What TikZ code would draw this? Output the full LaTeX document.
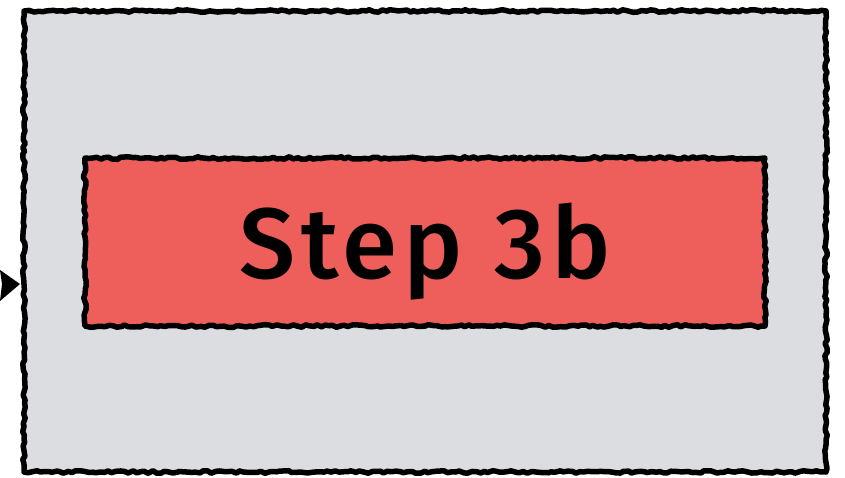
\documentclass[tikz,border=0pt]{standalone}
\usepackage{fontspec}
\setmainfont{Fira Sans}
\newfontfamily\labelfont[LetterSpace=6]{Fira Sans Medium}
\usetikzlibrary{decorations.pathmorphing}
\definecolor{boxgray}{HTML}{DCDDE0}
\definecolor{stepred}{HTML}{EE5F5B}
\tikzset{
  sketch/.style={draw=black, line width=5.5pt, line join=round,
    decorate, decoration={random steps, segment length=4pt, amplitude=1.3pt}},
  outerbox/.style={fill=boxgray},
  innerbox/.style={fill=stepred},
  label/.style={font=\labelfont\fontsize{100}{110}\selectfont, text=black}
}
\begin{document}
\begin{tikzpicture}[x=1pt,y=-1pt]
\useasboundingbox (0,0) rectangle (845,477);
\pgfmathsetseed{7}
% outer box
\fill[outerbox] (24,11) rectangle (826,472);
\draw[sketch] (24,11) rectangle (826,472);
% inner box
\fill[innerbox] (85,158) rectangle (765,326);
\draw[sketch] (85,158) rectangle (765,326);
% text
\node[label] (step) at (425,252) {Step 3b};
% incoming arrow tip at left edge
\coordinate (tip) at (20,284);
\fill[black] (tip) -- (0,270) -- (2,284) -- (0,301) -- cycle;
\end{tikzpicture}
\end{document}
